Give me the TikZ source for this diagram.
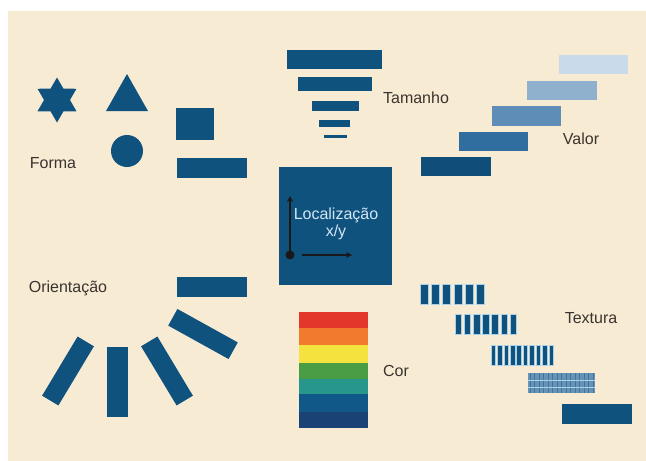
\documentclass[tikz,border=0pt]{standalone}
\usepackage{fontspec}
\setmainfont{Liberation Sans}
\usetikzlibrary{shapes.geometric,arrows.meta}
\definecolor{bg}{HTML}{F8EBD3}
\definecolor{navy}{HTML}{10527E}
\definecolor{txt}{HTML}{3A3430}
\definecolor{loc}{HTML}{D2E6F5}
\definecolor{vA}{HTML}{C9DAEA}
\definecolor{vB}{HTML}{90B1CE}
\definecolor{vC}{HTML}{5E8EB7}
\definecolor{vD}{HTML}{2F6E9F}
\definecolor{vE}{HTML}{104E79}
\definecolor{cRed}{HTML}{E2372A}
\definecolor{cOra}{HTML}{F27A2C}
\definecolor{cYel}{HTML}{F4E23E}
\definecolor{cGre}{HTML}{4B9D45}
\definecolor{cTea}{HTML}{27978B}
\definecolor{cBlu}{HTML}{0F5888}
\definecolor{cDbl}{HTML}{1A4275}
\definecolor{edge}{HTML}{A9D0EA}
\definecolor{fine}{HTML}{6893B8}
\begin{document}
\begin{tikzpicture}[x=1pt,y=-1pt,
  bar/.style={fill=navy,draw=none,inner sep=0pt,outer sep=0pt,rectangle},
  lbl/.style={text=txt,font=\fontsize{16}{19}\selectfont,inner sep=0pt},
  loclbl/.style={text=loc,font=\fontsize{16}{18}\selectfont,inner sep=0pt},
  axis/.style={draw=black!90,line width=2pt,-{Stealth[length=6pt,width=6pt]}},
  tex/.style={fill=navy,draw=edge,line width=0.7pt}]
\useasboundingbox (0,0) rectangle (646,461);
\fill[white] (0,0) rectangle (646,461);
\fill[bg] (8,11) rectangle (646,461);

% Forma
\node[star,star points=6,star point ratio=1.73,fill=navy,inner sep=0pt,minimum size=45pt] (star) at (57,100) {};
\fill[navy] (127,74) -- (106,111) -- (148,111) -- cycle;
\node[circle,fill=navy,inner sep=0pt,minimum size=32pt] (circ) at (127,151) {};
\fill[navy] (176,108) rectangle (214,140);
\fill[navy] (177,158) rectangle (247,178);
\node[lbl] (forma) at (53,163) {Forma};

% Tamanho
\fill[navy] (287,50) rectangle (382,69);
\fill[navy] (298,77) rectangle (372,91);
\fill[navy] (312,101) rectangle (359,111);
\fill[navy] (319,120) rectangle (350,127);
\fill[navy] (324,135) rectangle (347,138);
\node[lbl] (tamanho) at (416,98) {Tamanho};

% Valor
\fill[vA] (559,55) rectangle (628,74);
\fill[vB] (527,81) rectangle (597,100);
\fill[vC] (492,106) rectangle (561,126);
\fill[vD] (459,132) rectangle (528,151);
\fill[vE] (421,157) rectangle (491,176);
\node[lbl] (valor) at (581,139) {Valor};

% Localizacao
\fill[navy] (279,167) rectangle (392,285);
\node[loclbl] (loc) at (336,215) {Localização};
\node[loclbl] (xy) at (336,232) {x/y};
\fill[black!90] (290,255) circle (4.5);
\draw[axis] (290,251) -- (290,196);
\draw[axis] (302,255) -- (352,255);

% Orientacao
\node[bar,minimum width=70pt,minimum height=20pt] (o1) at (212,287) {};
\node[bar,minimum width=69pt,minimum height=19pt,rotate=-29] (o2) at (203,334) {};
\node[bar,minimum width=69pt,minimum height=19pt,rotate=-59] (o3) at (167,371) {};
\node[bar,minimum width=70pt,minimum height=21pt,rotate=90] (o4) at (117.5,382) {};
\node[bar,minimum width=69pt,minimum height=19pt,rotate=59] (o5) at (68,371) {};
\node[lbl] (orient) at (68,288) {Orientação};

% Cor
\fill[cRed] (299,312) rectangle (368,328);
\fill[cOra] (299,328) rectangle (368,345);
\fill[cYel] (299,345) rectangle (368,363);
\fill[cGre] (299,363) rectangle (368,379);
\fill[cTea] (299,379) rectangle (368,394);
\fill[cBlu] (299,394) rectangle (368,412);
\fill[cDbl] (299,412) rectangle (368,428);
\node[lbl] (cor) at (396,371) {Cor};

% Textura
\foreach \i in {0,...,5} {
  \draw[tex] ({420+\i*11.3},284) rectangle ({428+\i*11.3},304);
}
\foreach \i in {0,...,6} {
  \draw[tex] ({455+\i*9.2},314) rectangle ({461.5+\i*9.2},334);
}
\foreach \i in {0,...,9} {
  \draw[tex] ({491+\i*6.45},345) rectangle ({495.5+\i*6.45},365);
}
\fill[fine] (528,373) rectangle (595,393);
\foreach \i in {0,...,14} {
  \draw[navy!80,line width=0.6pt] ({530+\i*4.5},373) -- ({530+\i*4.5},393);
}
\draw[edge,line width=0.5pt] (528,380) -- (595,380);
\draw[edge,line width=0.5pt] (528,387) -- (595,387);
\fill[navy] (562,404) rectangle (632,424);
\node[lbl] (textura) at (591,318) {Textura};
\end{tikzpicture}
\end{document}
